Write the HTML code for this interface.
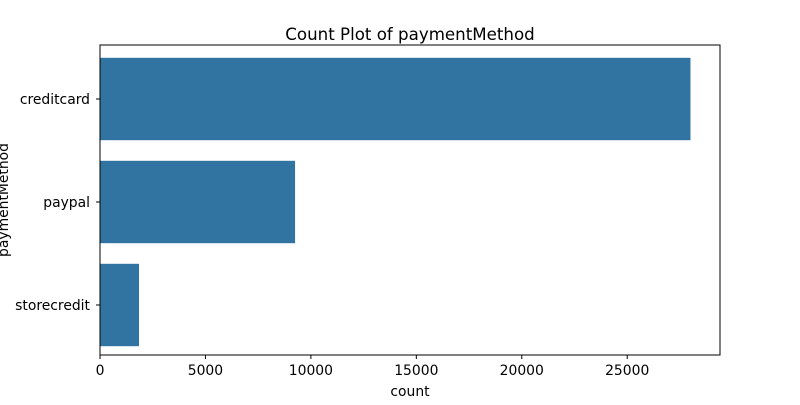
<!DOCTYPE html>
<html><head><meta charset="utf-8"><style>
body{margin:0;background:#fff;}
svg text{font-family:"DejaVu Sans","Liberation Sans",sans-serif;fill:#000;}
</style></head><body>
<svg id="chart" width="800" height="400">
<text x="410" y="40" font-size="16.67" text-anchor="middle">Count Plot of paymentMethod</text>
<g id="bars"></g>
<g id="xaxis"></g>
<g id="yaxis"></g>
<rect x="100" y="45" width="620" height="310" fill="none" stroke="#000" stroke-width="1"/>
<text x="410" y="396" font-size="13.9" text-anchor="middle">count</text>
<text x="0" y="0" font-size="13.9" text-anchor="middle" transform="translate(8,200) rotate(-90)">paymentMethod</text>
</svg>
<script>
const categories = ["creditcard","paypal","storecredit"];
const counts = [28000, 9250, 1850];
const xTicks = [0,5000,10000,15000,20000,25000];
const xMax = 29400;
const L=100,R=720,T=45,B=355;
const bandTop=47.5, band=103;
const ns="http://www.w3.org/2000/svg";
function x(v){return L+(v/xMax)*(R-L);}
function y(i){return bandTop+band*i;}
function mk(tag,attrs,parent){const e=document.createElementNS(ns,tag);for(const k in attrs)e.setAttribute(k,attrs[k]);document.getElementById(parent).appendChild(e);return e;}
categories.forEach((c,i)=>{
  const r=mk('rect',{x:x(0),y:y(i)+band*0.1,width:x(counts[i])-x(0),height:band*0.8,fill:'#3274a1'},'bars');
  
  
  const cy=y(i)+band/2;
  const tk=mk('line',{x1:L-4,x2:L,y1:cy,y2:cy,stroke:'#000'},'yaxis');
  
  
  const t=mk('text',{x:L-10,y:cy+5,'font-size':13.9,'text-anchor':'end'},'yaxis');
  t.textContent=c;
  
  
});
xTicks.forEach(v=>{
  const px=x(v);
  const tk=mk('line',{x1:px,x2:px,y1:B,y2:B+4,stroke:'#000'},'xaxis');
  
  
  const t=mk('text',{x:px,y:B+20,'font-size':13.9,'text-anchor':'middle'},'xaxis');
  t.textContent=v;
  
  
});
</script>
</body></html>
